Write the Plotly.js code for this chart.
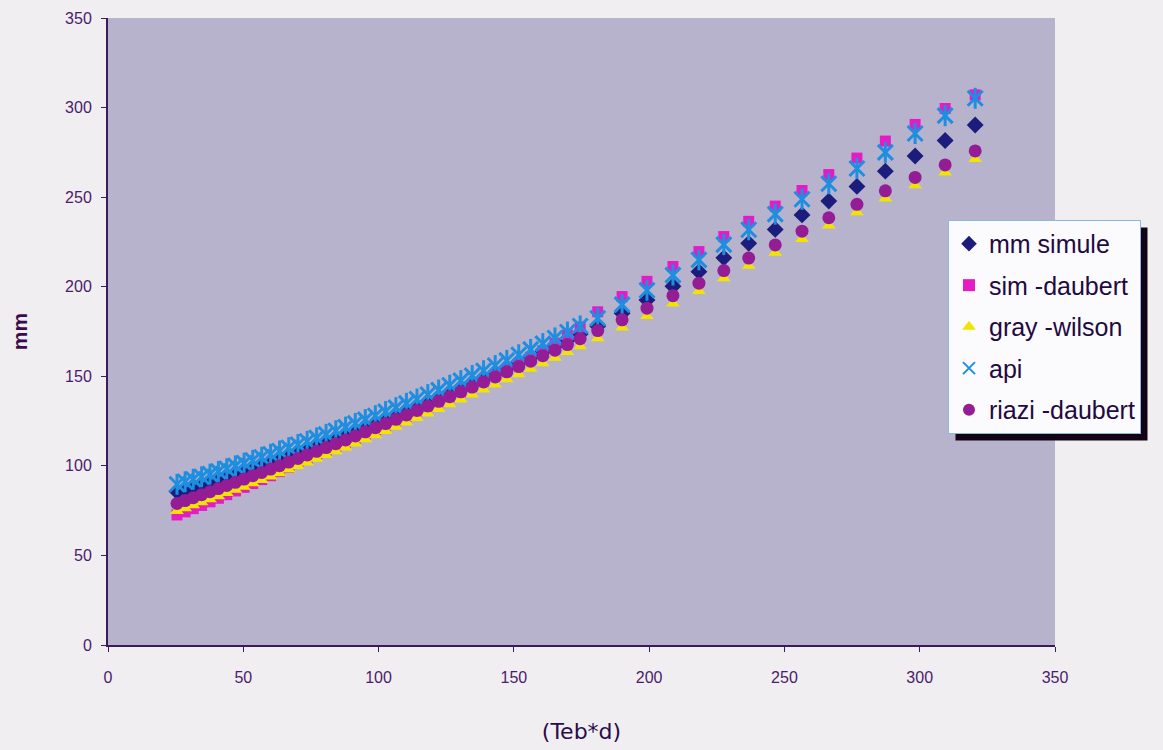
<!DOCTYPE html>
<html>
<head>
<meta charset="utf-8">
<script src="https://cdn.plot.ly/plotly-3.0.1.min.js"></script>
<style>
  html, body { margin: 0; padding: 0; background: #f0eef0; }
  #chart { width: 1163px; height: 750px; }
</style>
</head>
<body>
<div id="chart"></div>
<script>
// x values (Teb*d)
const xVals = [
  25.5, 28.5, 31.5, 34.6, 37.7, 40.8, 43.9, 47.1, 50.3, 53.5,
  56.8, 60.1, 63.4, 66.8, 70.2, 73.6, 77.1, 80.6, 84.2, 87.8,
  91.4, 95.1, 98.8, 102.6, 106.4, 110.3, 114.2, 118.2, 122.2, 126.3,
  130.4, 134.6, 138.8, 143.1, 147.4, 151.8, 156.2, 160.7, 165.2, 169.8,
  174.5,
  181, 190, 199.2, 208.8, 218.4, 227.6, 236.8, 246.6, 256.5, 266.4,
  276.8, 287.3, 298.3, 309.4, 320.5
];

const mmSimule = [
  85.7, 87.1, 88.5, 89.9, 91.4, 92.9, 94.4, 96.0, 97.5, 99.1,
  100.8, 102.5, 104.3, 106.1, 107.9, 109.7, 111.6, 113.6, 115.6, 117.6,
  119.2, 121.3, 123.5, 125.8, 128.0, 130.4, 132.8, 135.3, 137.8, 140.5,
  143.1, 145.9, 148.6, 151.5, 154.4, 157.5, 160.5, 163.7, 166.9, 170.2,
  173.6,
  178.0, 185.2, 192.6, 200.3, 208.4, 216.1, 224.2, 232.0, 240.1, 247.8,
  256.0, 264.5, 273.0, 281.6, 290.3
];

const simDaubert = [
  72.6, 74.3, 76.1, 77.9, 79.9, 81.9, 83.9, 86.0, 88.0, 90.1,
  92.3, 94.5, 96.8, 99.1, 101.3, 103.6, 105.9, 108.3, 110.7, 113.0,
  115.4, 117.8, 120.2, 122.7, 125.2, 127.8, 130.4, 133.0, 135.7, 138.5,
  141.3, 144.3, 147.2, 150.4, 153.7, 157.1, 160.6, 164.2, 168.5, 173.0,
  177.5,
  186.0, 194.5, 203.0, 211.3, 219.6, 228.0, 236.5, 245.0, 253.7, 262.6,
  271.8, 281.3, 290.6, 299.5, 307.1
];

const grayWilson = [
  74.8, 76.4, 78.0, 79.7, 81.4, 83.1, 84.9, 86.6, 88.4, 90.3,
  92.1, 94.0, 95.9, 97.9, 99.9, 101.9, 103.9, 106.0, 108.2, 110.3,
  112.5, 114.8, 117.1, 119.4, 121.8, 124.2, 126.7, 129.2, 131.8, 134.4,
  137.1, 139.8, 142.6, 145.4, 148.3, 151.2, 154.2, 157.3, 160.4, 163.5,
  166.8,
  171.3, 177.2, 183.7, 190.6, 197.6, 204.7, 211.7, 219.0, 226.6, 234.2,
  241.6, 249.2, 256.6, 263.7, 271.3
];

const api = [
  89.7, 91.1, 92.5, 93.9, 95.4, 96.9, 98.4, 100.0, 101.5, 103.1,
  104.8, 106.5, 108.3, 110.1, 111.9, 113.7, 115.6, 117.6, 119.6, 121.6,
  123.7, 125.8, 128.0, 130.3, 132.5, 134.9, 137.3, 139.8, 142.3, 145.0,
  147.6, 150.4, 153.1, 156.0, 158.9, 162.0, 165.0, 168.2, 171.4, 174.7,
  178.1,
  182.4, 190.0, 198.0, 206.5, 215.0, 223.5, 231.8, 240.5, 248.8, 257.5,
  266.0, 275.0, 285.5, 295.5, 305.2
];

const riaziDaubert = [
  79.0, 80.6, 82.2, 83.9, 85.6, 87.3, 89.1, 90.8, 92.6, 94.5,
  96.3, 98.2, 100.1, 102.1, 104.1, 106.1, 108.1, 110.2, 112.4, 114.5,
  116.7, 119.0, 121.3, 123.6, 126.0, 128.4, 130.9, 133.4, 136.0, 138.6,
  141.3, 144.0, 146.8, 149.6, 152.5, 155.4, 158.4, 161.5, 164.6, 167.7,
  171.0,
  175.5, 181.5, 188.0, 195.0, 202.0, 209.0, 216.0, 223.3, 231.0, 238.5,
  246.0, 253.5, 261.0, 268.0, 275.8
];

const seriesNames = ['mm simule', 'sim -daubert', 'gray -wilson', 'api', 'riazi -daubert'];
const xTicks = [0, 50, 100, 150, 200, 250, 300, 350];
const yTicks = [0, 50, 100, 150, 200, 250, 300, 350];

const traces = [
  {
    x: xVals, y: mmSimule, name: seriesNames[0], legendgroup: 'g1',
    type: 'scatter', mode: 'markers',
    marker: { symbol: 'diamond', size: 13, color: '#1c1c7c' }
  },
  {
    x: xVals, y: simDaubert, name: seriesNames[1], legendgroup: 'g2',
    type: 'scatter', mode: 'markers',
    marker: { symbol: 'square', size: 11, color: '#e41cc4' }
  },
  {
    x: xVals, y: grayWilson, name: seriesNames[2], legendgroup: 'g3',
    type: 'scatter', mode: 'markers',
    marker: { symbol: 'triangle-up', size: 12, color: '#f2e400' }
  },
  {
    x: xVals, y: api, name: seriesNames[3], legendgroup: 'g4',
    type: 'scatter', mode: 'markers',
    marker: { symbol: 'x-thin-open', size: 15, color: '#1e8ee0', line: { width: 3, color: '#1e8ee0' } }
  },
  {
    x: xVals, y: api, name: seriesNames[3], legendgroup: 'g4', showlegend: false,
    type: 'scatter', mode: 'markers', hoverinfo: 'skip',
    marker: { symbol: 'line-ns-open', size: 15, color: '#1e8ee0', line: { width: 3, color: '#1e8ee0' } }
  },
  {
    x: xVals, y: riaziDaubert, name: seriesNames[4], legendgroup: 'g5',
    type: 'scatter', mode: 'markers',
    marker: { symbol: 'circle', size: 13, color: '#941c94' }
  }
];

const axisColor = '#3c1a5c';
const tickFont = { family: 'Arial, Liberation Sans, sans-serif', size: 16, color: '#4a1c6c' };

const layout = {
  width: 1163, height: 750,
  paper_bgcolor: '#f0eef0',
  plot_bgcolor: '#b8b3cd',
  margin: { l: 108, r: 108, t: 18, b: 105 },
  showlegend: true,
  legend: {
    x: 0.887, y: 0.678, xanchor: 'left', yanchor: 'top',
    bgcolor: '#fbfbfd', bordercolor: '#8ab8e0', borderwidth: 1,
    font: { family: 'Arial, Liberation Sans, sans-serif', size: 25, color: '#220a40' },
    traceorder: 'grouped', tracegroupgap: 6,
    itemsizing: 'constant', itemwidth: 30
  },
  xaxis: {
    range: [0, 350], tickvals: xTicks, ticks: 'outside', ticklen: 5, tickcolor: axisColor,
    showgrid: false, zeroline: false, showline: true, linecolor: axisColor, linewidth: 2,
    tickfont: tickFont, ticklabelstandoff: 12,
    title: { text: '(Teb*d)', font: { family: 'DejaVu Sans, sans-serif', size: 22, color: '#2a0c4a' }, standoff: 38 }
  },
  yaxis: {
    range: [0, 350], tickvals: yTicks, ticks: 'outside', ticklen: 5, tickcolor: axisColor,
    showgrid: false, zeroline: false, showline: true, linecolor: axisColor, linewidth: 2,
    tickfont: tickFont, ticklabelstandoff: 6,
    title: { text: '<b>mm</b>', font: { family: 'Arial, Liberation Sans, sans-serif', size: 21, color: '#3a0c4a' }, standoff: 32 }
  }
};

Plotly.newPlot('chart', traces, layout, { staticPlot: true }).then(function (gd) {
  // drop shadow behind the legend box, placed from the legend's drawn size
  const bg = gd.querySelector('.legend .bg');
  if (!bg) return;
  const r = bg.getBoundingClientRect();
  const c = gd.getBoundingClientRect();
  const fs = gd._fullLayout._size;
  const off = 7;
  const toPx = function (px) { return (px - fs.l) / fs.w; };
  const toPy = function (py) { return (fs.t + fs.h - py) / fs.h; };
  const left = r.left - c.left + off, right = r.right - c.left + off;
  const top = r.top - c.top + off, bottom = r.bottom - c.top + off;
  return Plotly.relayout(gd, {
    shapes: [{
      type: 'rect', xref: 'paper', yref: 'paper', layer: 'above',
      x0: toPx(left), x1: toPx(right), y0: toPy(bottom), y1: toPy(top),
      fillcolor: '#120414', line: { width: 0 }
    }]
  });
});
</script>
</body>
</html>
